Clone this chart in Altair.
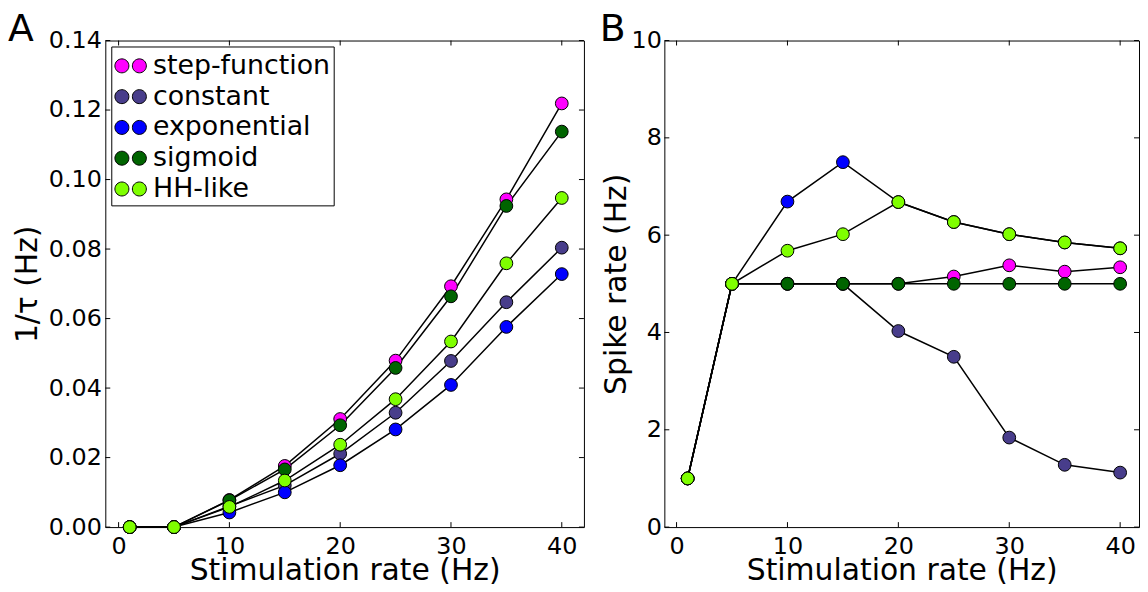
import altair as alt
import pandas as pd

# ---------------- data ----------------
series_names = ["step-function", "constant", "exponential", "sigmoid", "HH-like"]
series_colors = ["#FF00FF", "#483D8B", "#0000FF", "#006400", "#7FFF00"]

stim_rate = [1, 5, 10, 15, 20, 25, 30, 35, 40]

# Panel A: 1/tau (Hz)
inv_tau_step = [0.0, 0.0, 0.0078, 0.0176, 0.0311, 0.0479, 0.0693, 0.0943, 0.1219]
inv_tau_constant = [0.0, 0.0, 0.0060, 0.0120, 0.0211, 0.0329, 0.0478, 0.0647, 0.0804]
inv_tau_exponential = [0.0, 0.0, 0.0042, 0.0100, 0.0178, 0.0281, 0.0409, 0.0576, 0.0728]
inv_tau_sigmoid = [0.0, 0.0, 0.0077, 0.0166, 0.0293, 0.0458, 0.0664, 0.0924, 0.1138]
inv_tau_hh = [0.0, 0.0, 0.0058, 0.0134, 0.0237, 0.0368, 0.0534, 0.0759, 0.0947]

# Panel B: spike rate (Hz)
spike_step = [1.0, 5.0, 5.0, 5.0, 5.0, 5.15, 5.38, 5.25, 5.34]
spike_constant = [1.0, 5.0, 5.0, 5.0, 4.03, 3.50, 1.84, 1.28, 1.12]
spike_exponential = [1.0, 5.0, 6.69, 7.50, 6.68, 6.27, 6.02, 5.85, 5.73]
spike_sigmoid = [1.0, 5.0, 5.0, 5.0, 5.0, 5.0, 5.0, 5.0, 5.0]
spike_hh = [1.0, 5.0, 5.68, 6.02, 6.68, 6.27, 6.02, 5.85, 5.73]

# axis ticks
ticks_x = [0, 10, 20, 30, 40]
ticks_y_a = [0.0, 0.02, 0.04, 0.06, 0.08, 0.10, 0.12, 0.14]
ticks_y_b = [0, 2, 4, 6, 8, 10]

FONT = "DejaVu Sans"
W_A, W_B, H = 482, 478, 490
TL = 5  # inward tick length


def long_df(cols):
    rows = []
    for k, (name, vals) in enumerate(zip(series_names, cols)):
        for xv, yv in zip(stim_rate, vals):
            rows.append({"x": xv, "y": yv, "series": name, "k": k})
    return pd.DataFrame(rows)


df_a = long_df([inv_tau_step, inv_tau_constant, inv_tau_exponential, inv_tau_sigmoid, inv_tau_hh])
df_b = long_df([spike_step, spike_constant, spike_exponential, spike_sigmoid, spike_hh])

# legend symbol: two circles side by side (like numpoints=2)
two_dots = (
    "M -0.11 0 A 0.44 0.44 0 1 1 -0.99 0 A 0.44 0.44 0 1 1 -0.11 0 Z "
    "M 0.99 0 A 0.44 0.44 0 1 1 0.11 0 A 0.44 0.44 0 1 1 0.99 0 Z"
)


def panel(df, xdom, ydom, yticks, yfmt, ytitle, width, letter, letter_x,
          legend, ylabpad, ytitlepad):
    xs = alt.Scale(domain=xdom, nice=False, zero=False)
    ys = alt.Scale(domain=ydom, nice=False, zero=False)
    xaxis = alt.Axis(values=ticks_x, format="d", title="Stimulation rate (Hz)",
                     grid=False, ticks=False, tickSize=0, domain=False, labelPadding=8,
                     labelFont=FONT, labelFontSize=24, labelColor="black",
                     titleFont=FONT, titleFontSize=30, titleFontWeight="normal",
                     titleColor="black", titlePadding=-3, labelFlush=False)
    yaxis = alt.Axis(values=yticks, format=yfmt, title=ytitle,
                     grid=False, ticks=False, tickSize=0, domain=False, labelPadding=ylabpad,
                     labelFont=FONT, labelFontSize=24, labelColor="black",
                     titleFont=FONT, titleFontSize=30, titleFontWeight="normal",
                     titleColor="black", titlePadding=ytitlepad, labelFlush=False)
    X = alt.X("x:Q", scale=xs, axis=xaxis, title="Stimulation rate (Hz)")
    Y = alt.Y("y:Q", scale=ys, axis=yaxis, title=ytitle)

    lines = alt.Chart(df).mark_line(color="black", strokeWidth=1.5).encode(
        x=X, y=Y, detail="series:N",
    )
    if legend:
        leg = alt.Legend(title=None, orient="none", legendX=6, legendY=6,
                         symbolType=two_dots, symbolSize=1024,
                         symbolStrokeColor="black", symbolStrokeWidth=1,
                         symbolOpacity=1, labelLimit=0,
                         labelFont=FONT, labelFontSize=27, labelColor="black",
                         labelOffset=6, rowPadding=1, padding=3,
                         strokeColor="black", fillColor="white",
                         cornerRadius=0)
    else:
        leg = None
    points = alt.Chart(df).mark_circle(size=165, opacity=1, stroke="black",
                                       strokeWidth=1).encode(
        x=X, y=Y,
        color=alt.Color("series:N", scale=alt.Scale(domain=series_names, range=series_colors),
                        legend=leg),
        order=alt.Order("k:Q"),
    )

    tx = pd.DataFrame({"x": ticks_x})
    ty = pd.DataFrame({"y": yticks})
    t_bottom = alt.Chart(tx).mark_rule(color="black", strokeWidth=1).encode(
        x=X, y=alt.value(H), y2=alt.value(H - TL))
    t_top = alt.Chart(tx).mark_rule(color="black", strokeWidth=1).encode(
        x=X, y=alt.value(0), y2=alt.value(TL))
    t_left = alt.Chart(ty).mark_rule(color="black", strokeWidth=1).encode(
        y=Y, x=alt.value(0), x2=alt.value(TL))
    t_right = alt.Chart(ty).mark_rule(color="black", strokeWidth=1).encode(
        y=Y, x=alt.value(width - TL), x2=alt.value(width))

    lab = alt.Chart(pd.DataFrame({"t": [letter]})).mark_text(
        font=FONT, fontSize=38, align="left", baseline="alphabetic", color="black"
    ).encode(text="t:N", x=alt.value(letter_x), y=alt.value(0))

    return alt.layer(lines, points, t_bottom, t_top, t_left, t_right, lab).properties(
        width=width, height=H)


pa = panel(df_a, [-1.2, 42.0], [0, 0.14], ticks_y_a, ".2f", "1/τ (Hz)", W_A, "A", -98,
           True, 4, 6)
pb = panel(df_b, [-1.1, 41.7], [0, 10], ticks_y_b, "d", "Spike rate (Hz)", W_B, "B", -65,
           False, 3, 0)

chart = alt.hconcat(pa, pb, spacing=14).resolve_scale(color="independent").resolve_legend(
    color="independent").properties(
    autosize=alt.AutoSizeParams(type="none"),
    padding={"left": 98, "top": 29, "right": 1042, "bottom": 546},
).configure(background="white").configure_view(stroke="black", strokeWidth=1)

chart.save("out.html", embed_options={"renderer": "svg", "actions": False})
